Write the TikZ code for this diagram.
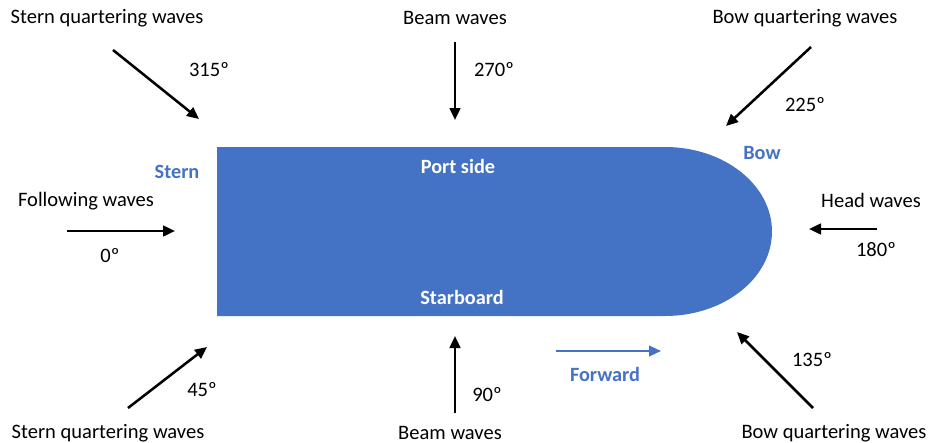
\documentclass[tikz,border=0pt]{standalone}
\usepackage{fontspec}
\setmainfont{Carlito}
\usetikzlibrary{arrows.meta}
\definecolor{hullblue}{HTML}{4472C4}
\begin{document}
\begin{tikzpicture}[
x=0.75pt,y=-0.75pt,
font=\fontsize{15.4}{18}\selectfont,
wave/.style={line width=1.9pt,-{Triangle[length=9pt,width=8pt]}},
lbl/.style={text=hullblue,font=\fontsize{15.2}{18}\selectfont\bfseries},
inlbl/.style={text=white,font=\fontsize{15.2}{18}\selectfont\bfseries}
]
\useasboundingbox(0,0)rectangle(929,443);
%% Hull
\fill[hullblue](217,147)--(665,147)arc[start angle=-90,end angle=90,x radius=107,y radius=84.5]--(217,316)--cycle;
\node[lbl]at(177,172)(stern){Stern};
\node[lbl]at(762,153)(bow){Bow};
\node[inlbl]at(458,166)(port){Port side};
\node[inlbl]at(462,297)(stbd){Starboard};
%% Forward
\coordinate(f0)at(556,351);
\coordinate(f1)at(661,351);
\draw[line width=1.6pt,draw=hullblue,-{Triangle[length=9pt,width=8pt]}](f0)--(f1);
\node[lbl]at(605,374)(fwd){Forward};
%% Top row
\node at(107,18)(sqw1){Stern quartering waves};
\coordinate(a315s)at(113,50);
\coordinate(a315e)at(199,119);
\draw[wave](a315s)--(a315e);
\node at(209,70)(d315){315º};
\node at(455,18)(bw1){Beam waves};
\coordinate(a270s)at(455,42);
\coordinate(a270e)at(455,120);
\draw[wave](a270s)--(a270e);
\node at(494,70)(d270){270º};
\node at(805,18)(bqw1){Bow quartering waves};
\coordinate(a225s)at(811,47);
\coordinate(a225e)at(726,126);
\draw[wave](a225s)--(a225e);
\node at(805,105)(d225){225º};
%% Middle row
\node at(86,201)(fw){Following waves};
\coordinate(a0s)at(67,231);
\coordinate(a0e)at(175,231);
\draw[wave](a0s)--(a0e);
\node at(110,256)(d0){0º};
\node at(871,200)(hw){Head waves};
\coordinate(a180s)at(877,229);
\coordinate(a180e)at(809,229);
\draw[wave](a180s)--(a180e);
\node at(876,250)(d180){180º};
%% Bottom row
\node at(108,433)(sqw2){Stern quartering waves};
\coordinate(a45s)at(128,408);
\coordinate(a45e)at(207,347);
\draw[wave](a45s)--(a45e);
\node at(202,390)(d45){45º};
\node at(450,433)(bw2){Beam waves};
\coordinate(a90s)at(455,413);
\coordinate(a90e)at(455,336);
\draw[wave](a90s)--(a90e);
\node at(487,395)(d90){90º};
\node at(834,433)(bqw2){Bow quartering waves};
\coordinate(a135s)at(813,408);
\coordinate(a135e)at(737,332);
\draw[wave](a135s)--(a135e);
\node at(812,360)(d135){135º};
\end{tikzpicture}
\end{document}
